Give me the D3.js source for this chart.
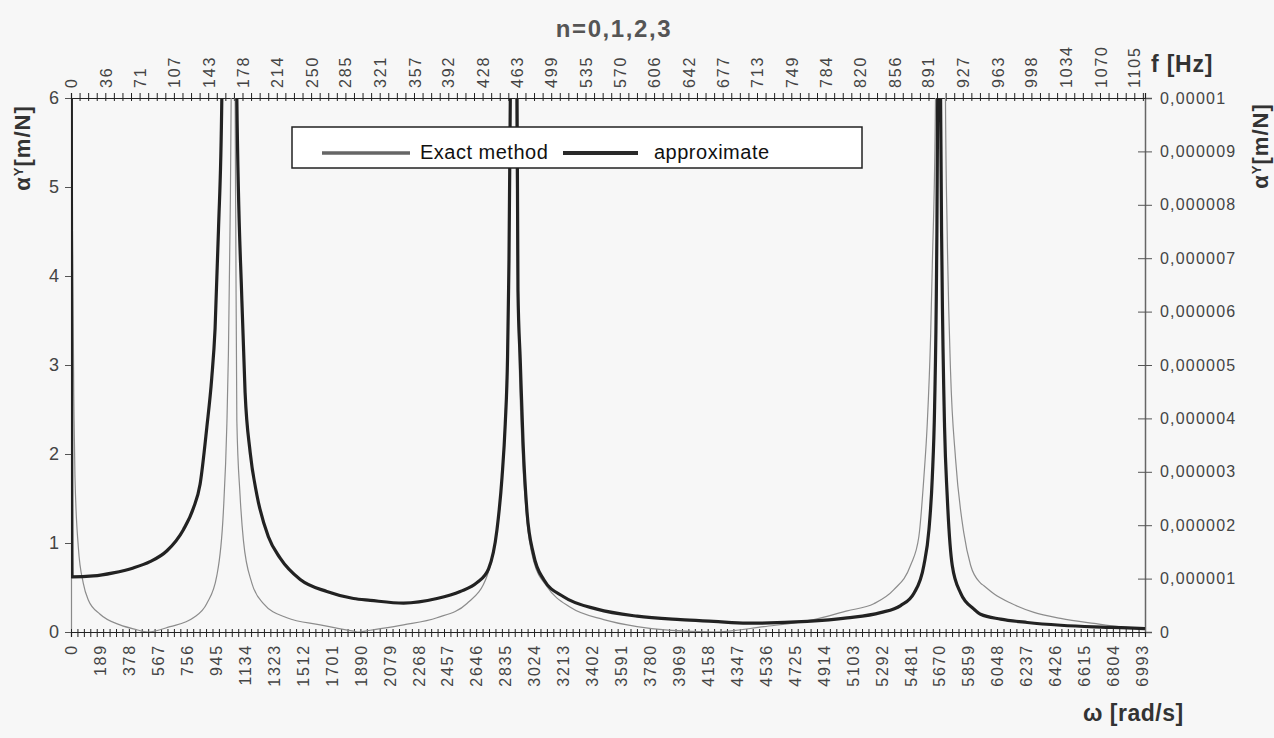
<!DOCTYPE html>
<html><head><meta charset="utf-8">
<script src="https://cdn.jsdelivr.net/npm/d3@7"></script>
<style>
html,body{margin:0;padding:0;background:#f7f7f7;}
svg{display:block;}
svg text{font-family:"Liberation Sans",Arial,sans-serif;}
</style></head>
<body><svg id="chart" width="1274" height="738"></svg>
<script>
// ---- data ----
const omegaExact = [0,10,20,26,48,80,113,190,320,420,500,647,799,887,952,995,1018,1028,1039,1046,1059,1072,1076,1083,1104,1126,1181,1257,1410,1627,1845,1880,1954,2172,2390,2586,2717,2760,2800,2830,2850,2866,2875,2888,2900,2910,2925,2945,2975,3021,3109,3261,3479,3697,3900,4200,4524,4851,5069,5243,5374,5483,5537,5570,5592,5614,5625,5646,5679,5711,5722,5744,5777,5831,5875,5940,5962,6027,6136,6289,6463,6681,6855,7014];
const alphaExact = [12,4.5,2.4,1.74,0.95,0.55,0.36,0.2,0.08,0.03,0.0,0.06,0.16,0.32,0.63,1.35,2.34,3.13,4.6,6.0,30,6.0,4.6,2.38,1.54,1.03,0.55,0.32,0.16,0.08,0.01,0.0,0.02,0.08,0.16,0.32,0.63,0.9,1.4,2.2,3.2,5,8,40,8,5,3.2,2.1,1.3,0.8,0.51,0.277,0.139,0.06,0.02,0.0,0.06,0.139,0.238,0.317,0.475,0.75,1.07,1.74,2.34,3.33,4.12,6.0,30,6.0,4.51,2.93,1.94,1.11,0.75,0.55,0.52,0.43,0.325,0.22,0.153,0.096,0.057,0.038];
const omegaApprox = [0,7,146,276,407,516,625,734,799,843,887,919,941,963,985,1010,1033,1058,1083,1116,1137,1170,1214,1289,1366,1497,1671,1845,1954,2172,2390,2542,2651,2727,2782,2815,2836,2851,2858,2869,2880,2891,2903,2913,2919,2934,2952,2978,3021,3087,3217,3435,3697,3980,4197,4415,4808,5069,5287,5418,5505,5570,5603,5625,5640,5653,5660,5669,5679,5688,5705,5722,5755,5810,5897,5940,6071,6245,6463,6681,6899,7014];
const alphaApprox = [10,0.62,0.63,0.665,0.72,0.79,0.91,1.15,1.39,1.66,2.3,2.85,3.41,4.51,6.0,12,40,12,6.0,3.72,2.69,2.02,1.54,1.07,0.83,0.59,0.455,0.376,0.356,0.325,0.376,0.455,0.554,0.71,1.15,1.74,2.34,3.09,3.88,6.0,15,40,15,6.0,3.84,3.05,2.14,1.35,0.87,0.59,0.396,0.257,0.178,0.139,0.119,0.099,0.119,0.158,0.218,0.297,0.436,0.75,1.15,1.74,2.53,4.12,6.0,40,6.0,4.12,2.3,1.54,0.75,0.436,0.257,0.199,0.145,0.107,0.076,0.057,0.046,0.038];
const seriesNames = ["Exact method","approximate"];
const leftTicks = [0,1,2,3,4,5,6];
const rightTicks = [0,0.000001,0.000002,0.000003,0.000004,0.000005,0.000006,0.000007,0.000008,0.000009,0.00001];
const rightTickLabels = ["0","0,000001","0,000002","0,000003","0,000004","0,000005","0,000006","0,000007","0,000008","0,000009","0,00001"];
const omegaLabels = [0,189,378,567,756,945,1134,1323,1512,1701,1890,2079,2268,2457,2646,2835,3024,3213,3402,3591,3780,3969,4158,4347,4536,4725,4914,5103,5292,5481,5670,5859,6048,6237,6426,6615,6804,6993];
const freqLabels = [0,36,71,107,143,178,214,250,285,321,357,392,428,463,499,535,570,606,642,677,713,749,784,820,856,891,927,963,998,1034,1070,1105];
const omegaMax = 7014;

// ---- layout ----
const L = 71, R = 1145, T = 98, B = 632;
const FONT = '"Liberation Sans", Arial, sans-serif';
const svg = d3.select("#chart");
const x = d3.scaleLinear().domain([0, omegaMax]).range([L, R]);
const xTop = d3.scaleLinear().domain([0, omegaMax/(2*Math.PI)]).range([L, R]);
const y = d3.scaleLinear().domain([0, 6]).range([B, T]);
const y2 = d3.scaleLinear().domain([0, 0.00001]).range([B, T]);

svg.append("rect").attr("width",1274).attr("height",738).attr("fill","#f7f7f7");

const tickCol = "#222", labCol = "#444";
function styleText(sel, size, ls){
  sel.attr("font-size",size).attr("font-family",FONT).attr("fill",labCol).attr("letter-spacing",ls);
}
// left axis
const gL = svg.append("g").attr("transform",`translate(${L},0)`)
  .call(d3.axisLeft(y).tickValues(leftTicks).tickSize(6).tickFormat(d3.format("d")));
gL.attr("font-family",FONT);
gL.select(".domain").attr("stroke","#8a8a8a").attr("stroke-width",1.2);
gL.selectAll(".tick line").attr("stroke","#555");
styleText(gL.selectAll("text"),18,0); gL.selectAll("text").attr("x",-12);

// right axis
const gR = svg.append("g").attr("transform",`translate(${R},0)`)
  .call(d3.axisRight(y2).tickValues(rightTicks).tickSize(7).tickFormat((d,i)=>rightTickLabels[i]));
gR.attr("font-family",FONT);
gR.select(".domain").attr("stroke","#666").attr("stroke-width",1.5);
gR.selectAll(".tick line").attr("stroke","#555").attr("x1",-7).attr("x2",7);
styleText(gR.selectAll("text"),16,1.2); gR.selectAll("text").attr("x",15);

// bottom axis
const minorBottom = d3.range(0, omegaMax, 42);
const gBm = svg.append("g").attr("transform",`translate(0,${B})`)
  .call(d3.axisBottom(x).tickValues(minorBottom).tickSize(5).tickFormat(""));
gBm.select(".domain").attr("stroke",tickCol).attr("stroke-width",1.2);
gBm.selectAll(".tick line").attr("stroke",tickCol).attr("y1",-3).attr("y2",5);
const gB = svg.append("g").attr("transform",`translate(0,${B})`)
  .call(d3.axisBottom(x).tickValues(omegaLabels).tickSize(0).tickFormat(d3.format("d")));
gB.attr("font-family",FONT);
gB.select(".domain").remove();
styleText(gB.selectAll("text"),16,1.8);
gB.selectAll("text").attr("transform","rotate(-90)").attr("text-anchor","end")
  .attr("x",-12).attr("y",0).attr("dy","0.36em");

// top axis
const minorTop = d3.range(0, omegaMax/(2*Math.PI), 56/(2*Math.PI));
const gTm = svg.append("g").attr("transform",`translate(0,${T})`)
  .call(d3.axisTop(xTop).tickValues(minorTop).tickSize(5).tickFormat(""));
gTm.select(".domain").attr("stroke",tickCol).attr("stroke-width",1.2);
gTm.selectAll(".tick line").attr("stroke",tickCol).attr("y1",3).attr("y2",-5);
const gT = svg.append("g").attr("transform",`translate(0,${T})`)
  .call(d3.axisTop(xTop).tickValues(freqLabels).tickSize(0).tickFormat(d3.format("d")));
gT.attr("font-family",FONT);
gT.select(".domain").remove();
styleText(gT.selectAll("text"),16,1.8);
gT.selectAll("text").attr("transform","rotate(-90)").attr("text-anchor","start")
  .attr("x",10).attr("y",0).attr("dy","0.36em");

// clip
svg.append("clipPath").attr("id","plotclip").append("rect")
  .attr("x",L).attr("y",T).attr("width",R-L).attr("height",B-T);

const line = d3.line().curve(d3.curveMonotoneX).x(d=>x(d[0])).y(d=>y(d[1]));
const exactPts = omegaExact.map((w,i)=>[w, alphaExact[i]]);
const approxPts = omegaApprox.map((w,i)=>[w, alphaApprox[i]]);
const gP = svg.append("g").attr("clip-path","url(#plotclip)");
gP.append("path").datum(exactPts).attr("d",line).attr("fill","none")
  .attr("stroke","#8c8c8c").attr("stroke-width",1.2).attr("stroke-linejoin","round");
gP.append("path").datum(approxPts).attr("d",line).attr("fill","none")
  .attr("stroke","#222").attr("stroke-width",3.2).attr("stroke-linejoin","round");

// legend
const lg = svg.append("g");
lg.append("rect").attr("x",292).attr("y",127).attr("width",570).attr("height",41)
  .attr("fill","#fff").attr("stroke","#222").attr("stroke-width",1.5);
lg.append("line").attr("x1",322).attr("x2",410).attr("y1",153).attr("y2",153).attr("stroke","#666").attr("stroke-width",3.5);
lg.append("text").attr("x",420).attr("y",159).attr("font-size",20).attr("letter-spacing",0.5).attr("fill","#111").text(seriesNames[0]);
lg.append("line").attr("x1",563).attr("x2",638).attr("y1",153).attr("y2",153).attr("stroke","#2a2a2a").attr("stroke-width",4);
lg.append("text").attr("x",654).attr("y",159).attr("font-size",20).attr("letter-spacing",0.5).attr("fill","#111").text(seriesNames[1]);

// titles
svg.append("text").attr("x",614).attr("y",37).attr("text-anchor","middle").attr("font-size",24)
  .attr("font-weight","bold").attr("fill","#555").attr("letter-spacing",1.6).text("n=0,1,2,3");
svg.append("text").attr("x",1151).attr("y",72).attr("font-size",23).attr("font-weight","bold")
  .attr("fill","#333").attr("letter-spacing",0.8).text("f [Hz]");
svg.append("text").attr("x",1083).attr("y",721).attr("font-size",23).attr("font-weight","bold")
  .attr("fill","#333").attr("letter-spacing",0.5).text("ω [rad/s]");
function yTitle(cx, cy){
  const t = svg.append("text").attr("transform",`translate(${cx},${cy}) rotate(-90)`)
    .attr("text-anchor","middle").attr("font-size",22).attr("font-weight","bold").attr("fill","#333")
    .attr("letter-spacing",1);
  t.append("tspan").text("α");
  t.append("tspan").attr("font-size",13).attr("dy",-7).text("Y");
  t.append("tspan").attr("dy",7).text("[m/N]");
}
yTitle(30,148);
yTitle(1268,146);
</script></body></html>
